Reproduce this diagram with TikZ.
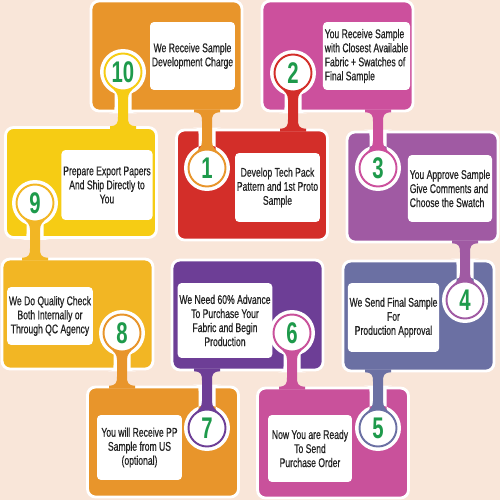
\documentclass[tikz,border=0pt]{standalone}
\usepackage{fontspec}
\setmainfont{Liberation Sans}[FakeStretch=0.68]
\newfontfamily\boxfont{Liberation Sans}[FakeStretch=0.68, FakeBold=0.5]
\usetikzlibrary{calc}

\definecolor{bgPeach}{HTML}{F9E6D9}
\definecolor{stepOrange}{HTML}{E8952B}
\definecolor{stepYellow}{HTML}{F6CC14}
\definecolor{stepRed}{HTML}{D32E29}
\definecolor{stepMagenta}{HTML}{CC509D}
\definecolor{stepLilac}{HTML}{A05AA3}
\definecolor{stepSlate}{HTML}{6B70A3}
\definecolor{stepPink}{HTML}{C9519B}
\definecolor{stepPurple}{HTML}{6D3E96}
\definecolor{stepGold}{HTML}{F2B624}
\definecolor{numGreen}{HTML}{1E9A4B}
\definecolor{textDark}{HTML}{222222}

\newdimen\pxu
\pxu=0.02cm

\tikzset{
  tile/.style={fill=#1, draw=white, line width=1.6pt, rounded corners=0.16cm,
    minimum width=3.02cm, minimum height=2.2cm, inner sep=0pt},
  txtbox/.style={fill=white, rounded corners=0.08cm, inner sep=1pt, align=center,
    font=\boxfont\fontsize{7.2}{8}\selectfont, text=textDark},
  ring/.style={circle, fill=white, draw=#1, line width=1.1pt, minimum size=0.74cm,
    inner sep=0pt, font=\fontsize{17}{17}\selectfont\bfseries, text=numGreen}
}

% keyhole neck: #1 keyhole point, #2 edge of the tile it hangs from,
% #3 edge of the tile it sits on, #4 colour
\newcommand{\neck}[4]{%
  \fill[white] let \p1=(#1), \p2=(#1 |- #3), \n1={ifthenelse(\y2>\y1,1,-1)} in
    (#1) circle (0.46cm)
    (\x1-8.5*\pxu, \y1) -- (\x1-8.5*\pxu, \y2-\n1*5*\pxu)
    .. controls (\x1-8.5*\pxu, \y2) .. (\x1-14*\pxu, \y2+\n1*1*\pxu)
    -- (\x1+14*\pxu, \y2+\n1*1*\pxu)
    .. controls (\x1+8.5*\pxu, \y2) .. (\x1+8.5*\pxu, \y2-\n1*5*\pxu)
    -- (\x1+8.5*\pxu, \y1) -- cycle;
  \fill[#4] let \p1=(#1), \p2=(#1 |- #2), \n1={ifthenelse(\y2>\y1,1,-1)} in
    (\x1-13*\pxu, \y2+\n1*3*\pxu) -- (\x1+13*\pxu, \y2+\n1*3*\pxu) -- (\x1+13*\pxu, \y2)
    .. controls (\x1+6*\pxu, \y2) and (\x1+5*\pxu, \y2-\n1*3*\pxu) .. (\x1+5*\pxu, \y2-\n1*9*\pxu)
    -- (\x1+5*\pxu, \y1+\n1*27*\pxu)
    .. controls (\x1+5*\pxu, \y1+\n1*21*\pxu) and (\x1+8*\pxu, \y1+\n1*19*\pxu) .. (\x1+12*\pxu, \y1+\n1*15*\pxu)
    -- (\x1-12*\pxu, \y1+\n1*15*\pxu)
    .. controls (\x1-8*\pxu, \y1+\n1*19*\pxu) and (\x1-5*\pxu, \y1+\n1*21*\pxu) .. (\x1-5*\pxu, \y1+\n1*27*\pxu)
    -- (\x1-5*\pxu, \y2-\n1*9*\pxu)
    .. controls (\x1-5*\pxu, \y2-\n1*3*\pxu) and (\x1-6*\pxu, \y2) .. (\x1-13*\pxu, \y2)
    -- cycle;
}

\begin{document}
\begin{tikzpicture}[x=0.02cm, y=-0.02cm]
  \useasboundingbox (0,0) rectangle (500,500);
  \fill[bgPeach] (0,0) rectangle (500,500);

  % tiles
  \node[tile=stepOrange]  (t10) at (166.5,56) {};
  \node[tile=stepYellow]  (t9)  at (81,182.5) {};
  \node[tile=stepRed]     (t1)  at (252,185) {};
  \node[tile=stepMagenta] (t2)  at (337.5,56) {};
  \node[tile=stepLilac]   (t3)  at (422.5,187) {};
  \node[tile=stepSlate]   (t4)  at (418.5,316) {};
  \node[tile=stepPink]    (t5)  at (333,443) {};
  \node[tile=stepPurple]  (t6)  at (247.5,315) {};
  \node[tile=stepOrange]  (t7)  at (163,442) {};
  \node[tile=stepGold]    (t8)  at (77.5,314) {};

  % text boxes
  \node[txtbox, minimum width=1.7cm, minimum height=1.36cm] (b10) at (192.5,56)
    {We Receive Sample\\Development Charge};
  \node[txtbox, minimum width=1.8cm, minimum height=1.4cm] (b9) at (107,185)
    {Prepare Export Papers\\And Ship Directly to\\You};
  \node[txtbox, minimum width=1.62cm, minimum height=1.38cm] (b1) at (277.5,187.5)
    {Develop Tech Pack\\Pattern and 1st Proto\\Sample};
  \node[txtbox, align=left, minimum width=1.66cm, minimum height=1.36cm] (b2) at (366.5,56)
    {You Receive Sample\\with Closest Available\\Fabric + Swatches of\\Final Sample};
  \node[txtbox, align=left, minimum width=1.68cm, minimum height=1.34cm] (b3) at (450,188.5)
    {You Approve Sample\\Give Comments and\\Choose the Swatch};
  \node[txtbox, minimum width=1.66cm, minimum height=1.38cm] (b4) at (393.5,317.5)
    {We Send Final Sample\\For\\Production Approval};
  \node[txtbox, minimum width=1.68cm, minimum height=1.34cm] (b5) at (310,448.5)
    {Now You are Ready\\To Send\\Purchase Order};
  \node[txtbox, minimum width=1.8cm, minimum height=1.5cm] (b6) at (225,320.5)
    {We Need 60\% Advance\\To Purchase Your\\Fabric and Begin\\Production};
  \node[txtbox, minimum width=1.7cm, minimum height=1.3cm] (b7) at (139.5,447.5)
    {You will Receive PP\\Sample from US\\(optional)};
  \node[txtbox, minimum width=1.68cm, minimum height=1.16cm] (b8) at (50,316)
    {We Do Quality Check\\Both Internally or\\Through QC Agency};

  % keyholes
  \coordinate (k1)  at (207,168);
  \coordinate (k2)  at (293,73);
  \coordinate (k3)  at (378,168);
  \coordinate (k4)  at (465,300);
  \coordinate (k5)  at (378,428);
  \coordinate (k6)  at (292,333);
  \coordinate (k7)  at (207,428);
  \coordinate (k8)  at (122,333);
  \coordinate (k9)  at (35,203);
  \coordinate (k10) at (123,72);

  \neck{k1}{t10.south}{t1.north}{stepOrange}
  \neck{k2}{t1.north}{t2.south}{stepRed}
  \neck{k3}{t2.south}{t3.north}{stepMagenta}
  \neck{k4}{t3.south}{t4.north}{stepLilac}
  \neck{k5}{t4.south}{t5.north}{stepSlate}
  \neck{k6}{t5.north}{t6.south}{stepPink}
  \neck{k7}{t6.south}{t7.north}{stepPurple}
  \neck{k8}{t7.north}{t8.south}{stepOrange}
  \neck{k9}{t8.north}{t9.south}{stepGold}
  \neck{k10}{t9.north}{t10.south}{stepYellow}

  \node[ring=stepOrange]  (c1)  at (k1)  {1};
  \node[ring=stepRed]     (c2)  at (k2)  {2};
  \node[ring=stepMagenta] (c3)  at (k3)  {3};
  \node[ring=stepLilac]   (c4)  at (k4)  {4};
  \node[ring=stepSlate]   (c5)  at (k5)  {5};
  \node[ring=stepPink]    (c6)  at (k6)  {6};
  \node[ring=stepPurple]  (c7)  at (k7)  {7};
  \node[ring=stepOrange]  (c8)  at (k8)  {8};
  \node[ring=stepGold]    (c9)  at (k9)  {9};
  \node[ring=stepYellow]  (c10) at (k10) {10};
\end{tikzpicture}
\end{document}
